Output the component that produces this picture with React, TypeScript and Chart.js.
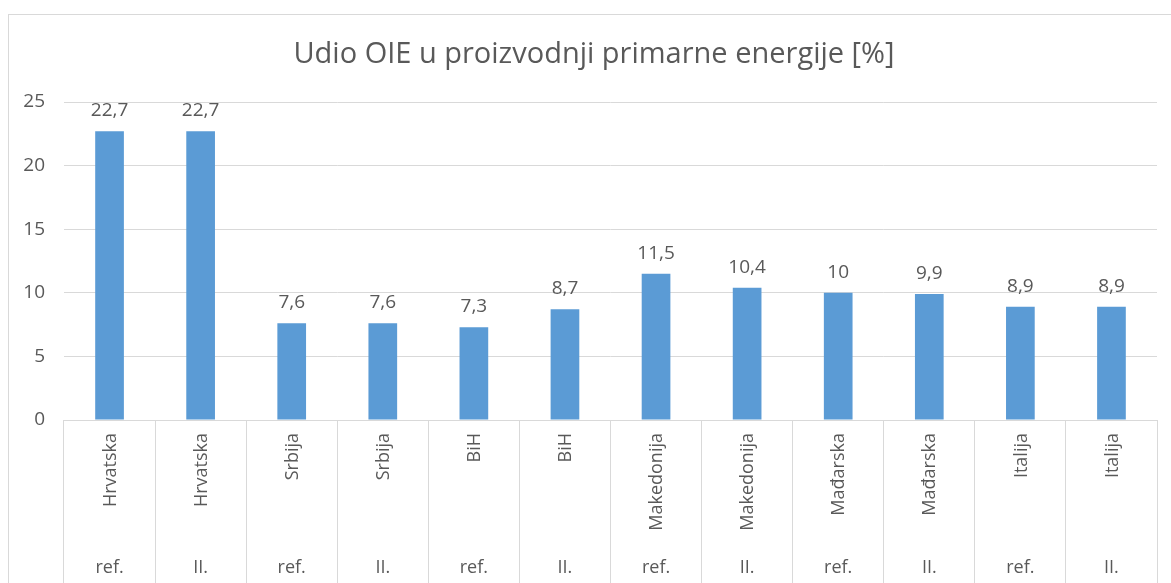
import React, { useEffect, useRef } from "react";
import { Chart, registerables } from "chart.js";

Chart.register(...registerables);

const countries = [
  "Hrvatska", "Hrvatska", "Srbija", "Srbija", "BiH", "BiH",
  "Makedonija", "Makedonija", "Mađarska", "Mađarska", "Italija", "Italija",
];
const scenarios = ["ref.", "II.", "ref.", "II.", "ref.", "II.", "ref.", "II.", "ref.", "II.", "ref.", "II."];
const shares = [22.7, 22.7, 7.6, 7.6, 7.3, 8.7, 11.5, 10.4, 10, 9.9, 8.9, 8.9];
const titleText = "Udio OIE u proizvodnji primarne energije [%]";

const FONT = "'Open Sans', 'Noto Sans', sans-serif";
const TEXT = "#595959";
const GRID = "#d9d9d9";

const decorPlugin = {
  id: "decor",
  beforeDraw(chart: any) {
    const ctx = chart.ctx;
    ctx.save();
    ctx.fillStyle = "#ffffff";
    ctx.fillRect(0, 0, chart.width, chart.height);
    ctx.strokeStyle = GRID;
    ctx.lineWidth = 1;
    ctx.strokeRect(8.5, 14.5, chart.width + 20, chart.height + 20);
    ctx.restore();
  },
  afterDraw(chart: any) {
    const ctx = chart.ctx;
    const x = chart.scales.x;
    const area = chart.chartArea;
    ctx.save();
    ctx.fillStyle = TEXT;
    // title
    ctx.font = `29px ${FONT}`;
    ctx.textAlign = "center";
    ctx.textBaseline = "middle";
    ctx.fillText(titleText, 594, 55);
    // data labels
    const meta = chart.getDatasetMeta(0);
    ctx.font = `19px ${FONT}`;
    ctx.textAlign = "center";
    ctx.textBaseline = "alphabetic";
    meta.data.forEach((bar: any, i: number) => {
      const v = shares[i];
      ctx.fillText(String(v).replace(".", ","), bar.x, bar.y - 15);
    });
    // category labels (two levels)
    countries.forEach((c, i) => {
      const cx = x.getPixelForValue(i);
      ctx.save();
      ctx.translate(cx + 1, area.bottom + 13);
      ctx.rotate(-Math.PI / 2);
      ctx.font = `18px ${FONT}`;
      ctx.textAlign = "right";
      ctx.textBaseline = "middle";
      ctx.fillText(c, 0, 0);
      ctx.restore();
      ctx.font = `18px ${FONT}`;
      ctx.textAlign = "center";
      ctx.textBaseline = "middle";
      ctx.fillText(scenarios[i], cx, area.bottom + 148);
    });
    ctx.restore();
  },
};

export default function App() {
  const ref = useRef<HTMLCanvasElement>(null);
  useEffect(() => {
    if (!ref.current) return;
    const chart = new Chart(ref.current, {
      type: "bar",
      data: {
        labels: countries.map((c, i) => `${c} ${scenarios[i]}`),
        datasets: [
          {
            data: shares,
            backgroundColor: "#5b9bd5",
            borderWidth: 0,
            barPercentage: 0.315,
            categoryPercentage: 1,
          },
        ],
      },
      options: {
        responsive: false,
        animation: false,
        layout: { padding: { left: 8, right: 14, top: 102, bottom: 0 } },
        plugins: {
          legend: { display: false },
          tooltip: { enabled: false },
          title: { display: false },
        },
        scales: {
          x: {
            ticks: { display: false },
            border: { display: false },
            grid: {
              display: true,
              offset: true,
              drawOnChartArea: false,
              drawTicks: true,
              tickLength: 163,
              color: GRID,
            },
            afterFit(scale: any) {
              scale.height = 163;
            },
          },
          y: {
            min: 0,
            max: 25,
            ticks: {
              stepSize: 5,
              color: TEXT,
              padding: 19,
              font: { family: FONT, size: 19 },
            },
            border: { display: false },
            grid: { color: GRID, drawTicks: false, tickLength: 0 },
            afterFit(scale: any) {
              scale.width = 56;
            },
          },
        },
      },
      plugins: [decorPlugin],
    });
    return () => chart.destroy();
  }, []);
  return (
    <div style={{ position: "absolute", left: 0, top: 0, width: 1171, height: 583 }}>
      <canvas ref={ref} width={1171} height={583} />
    </div>
  );
}
